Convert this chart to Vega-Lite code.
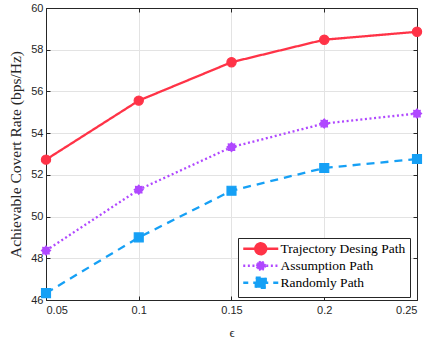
{
  "$schema": "https://vega.github.io/schema/vega-lite/v6.json",
  "width": 371,
  "height": 292,
  "autosize": "none",
  "padding": {"left": 46, "top": 8, "right": 10, "bottom": 45},
  "background": "white",
  "config": {
    "view": {"stroke": "#262626", "strokeWidth": 1},
    "axis": {
      "labelFont": "Liberation Sans",
      "labelFontSize": 11,
      "labelColor": "#262626",
      "domainColor": "#262626",
      "tickColor": "#262626",
      "gridColor": "#e3e3e3",
      "titleColor": "#262626"
    }
  },
  "data": {
    "values": [
      {"series": "Trajectory Desing Path", "eps": 0.05, "rate": 52.73},
      {"series": "Trajectory Desing Path", "eps": 0.1, "rate": 55.56},
      {"series": "Trajectory Desing Path", "eps": 0.15, "rate": 57.4},
      {"series": "Trajectory Desing Path", "eps": 0.2, "rate": 58.48},
      {"series": "Trajectory Desing Path", "eps": 0.25, "rate": 58.86},
      {"series": "Assumption Path", "eps": 0.05, "rate": 48.37},
      {"series": "Assumption Path", "eps": 0.1, "rate": 51.29},
      {"series": "Assumption Path", "eps": 0.15, "rate": 53.33},
      {"series": "Assumption Path", "eps": 0.2, "rate": 54.46},
      {"series": "Assumption Path", "eps": 0.25, "rate": 54.94},
      {"series": "Randomly Path", "eps": 0.05, "rate": 46.33},
      {"series": "Randomly Path", "eps": 0.1, "rate": 49.0},
      {"series": "Randomly Path", "eps": 0.15, "rate": 51.24},
      {"series": "Randomly Path", "eps": 0.2, "rate": 52.33},
      {"series": "Randomly Path", "eps": 0.25, "rate": 52.76}
    ]
  },
  "resolve": {
    "axis": {"x": "independent", "y": "independent"},
    "scale": {"shape": "independent", "strokeDash": "independent"},
    "legend": {"shape": "independent", "strokeDash": "independent", "color": "independent", "fill": "independent", "stroke": "independent"}
  },
  "layer": [
    {
      "mark": {"type": "line", "strokeWidth": 2.3, "clip": true},
      "encoding": {
        "x": {"field": "eps", "type": "quantitative", "scale": {"domain": [0.05, 0.25], "nice": false, "zero": false},
          "axis": {"orient": "bottom", "values": [0.05, 0.1, 0.15, 0.2, 0.25], "format": "~g", "tickSize": -4, "labelPadding": 8, "grid": true, "title": "ϵ", "titleFont": "Liberation Serif", "titleFontSize": 13, "titleFontWeight": "normal", "titlePadding": 11}},
        "y": {"field": "rate", "type": "quantitative", "scale": {"domain": [46, 60], "nice": false, "zero": false},
          "axis": {"orient": "left", "values": [46, 48, 50, 52, 54, 56, 58, 60], "tickSize": -4, "labelPadding": 7, "grid": true, "title": "Achievable Covert Rate (bps/Hz)", "titleFont": "Liberation Serif", "titleFontSize": 15.5, "titleFontWeight": "normal", "titlePadding": 7}},
        "color": {"field": "series", "type": "nominal", "scale": {"domain": ["Trajectory Desing Path", "Assumption Path", "Randomly Path"], "range": ["#ff3347", "#b048ff", "#16a0f5"]}, "legend": null},
        "strokeDash": {"field": "series", "type": "nominal", "scale": {"domain": ["Trajectory Desing Path", "Assumption Path", "Randomly Path"], "range": [[1, 0], [2, 2.6], [8, 6]]}, "legend": null}
      }
    },
    {
      "mark": {"type": "point", "filled": true, "strokeWidth": 1.2, "opacity": 1},
      "encoding": {
        "x": {"field": "eps", "type": "quantitative", "scale": {"domain": [0.05, 0.25], "nice": false, "zero": false},
          "axis": {"orient": "top", "values": [0.05, 0.1, 0.15, 0.2, 0.25], "tickSize": -4, "labels": false, "grid": false, "title": null}},
        "y": {"field": "rate", "type": "quantitative", "scale": {"domain": [46, 60], "nice": false, "zero": false},
          "axis": {"orient": "right", "values": [46, 48, 50, 52, 54, 56, 58, 60], "tickSize": -4, "labels": false, "grid": false, "title": null}},
        "color": {"field": "series", "type": "nominal", "legend": null},
        "stroke": {"field": "series", "type": "nominal", "scale": {"domain": ["Trajectory Desing Path", "Assumption Path", "Randomly Path"], "range": ["#ff3347", "#b048ff", "#16a0f5"]}, "legend": null},
        "shape": {"field": "series", "type": "nominal", "scale": {"domain": ["Trajectory Desing Path", "Assumption Path", "Randomly Path"], "range": ["circle", "M1,0L0.67,0.28L0.707,0.707L0.28,0.67L0,1L-0.28,0.67L-0.707,0.707L-0.67,0.28L-1,0L-0.67,-0.28L-0.707,-0.707L-0.28,-0.67L0,-1L0.28,-0.67L0.707,-0.707L0.67,-0.28Z", "square"]}, "legend": null},
        "size": {"field": "series", "type": "nominal", "scale": {"domain": ["Trajectory Desing Path", "Assumption Path", "Randomly Path"], "range": [85, 80, 85]}, "legend": null}
      }
    },
    {
      "transform": [{"filter": "datum.eps > 1"}],
      "mark": {"type": "point", "filled": true, "strokeWidth": 2.3, "opacity": 1},
      "encoding": {
        "x": {"field": "eps", "type": "quantitative", "axis": null},
        "y": {"field": "rate", "type": "quantitative", "axis": null},
        "fill": {"field": "series", "type": "nominal", "title": null, "scale": {"domain": ["Trajectory Desing Path", "Assumption Path", "Randomly Path"], "range": ["#ff3347", "#b048ff", "#16a0f5"]},
          "legend": {"orient": "none", "legendX": 192, "legendY": 230, "title": null, "labelFont": "Liberation Serif", "labelFontSize": 13.5, "labelColor": "#000000", "strokeColor": "#262626", "fillColor": "white", "padding": 4, "symbolSize": 100, "symbolOffset": 12, "labelOffset": 13, "rowPadding": -6, "symbolStrokeWidth": 2.3}},
        "stroke": {"field": "series", "type": "nominal", "title": null, "scale": {"domain": ["Trajectory Desing Path", "Assumption Path", "Randomly Path"], "range": ["#ff3347", "#b048ff", "#16a0f5"]}, "legend": {"orient": "none", "legendX": 192, "legendY": 230, "title": null}},
        "shape": {"field": "series", "type": "nominal", "title": null, "scale": {"domain": ["Trajectory Desing Path", "Assumption Path", "Randomly Path"], "range": ["M-3.5,0H3.5M-1.1,0A1.1,1.1 0 1,0 1.1,0A1.1,1.1 0 1,0 -1.1,0", "M-3.5,0H3.5M1,0L0.67,0.28L0.707,0.707L0.28,0.67L0,1L-0.28,0.67L-0.707,0.707L-0.67,0.28L-1,0L-0.67,-0.28L-0.707,-0.707L-0.28,-0.67L0,-1L0.28,-0.67L0.707,-0.707L0.67,-0.28Z", "M-3.5,0H3.5M-1,-1H1V1H-1Z"]}, "legend": {"orient": "none", "legendX": 192, "legendY": 230, "title": null}},
        "strokeDash": {"field": "series", "type": "nominal", "title": null, "scale": {"domain": ["Trajectory Desing Path", "Assumption Path", "Randomly Path"], "range": [[1, 0], [2, 2.6], [5, 5]]}, "legend": {"orient": "none", "legendX": 192, "legendY": 230, "title": null}}
      }
    }
  ]
}
